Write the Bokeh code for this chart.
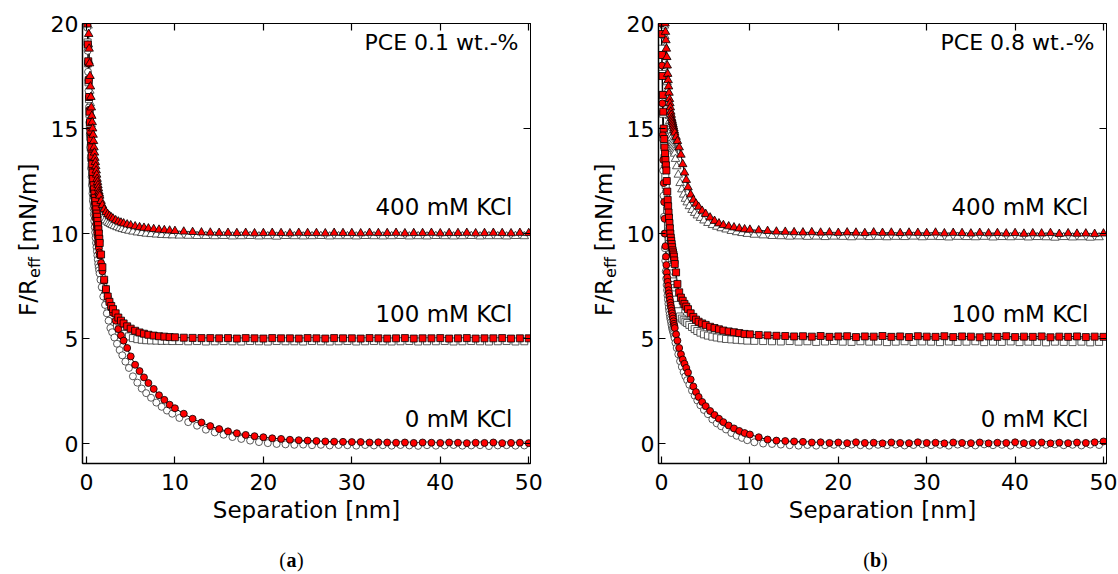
from math import pi
from bokeh.plotting import figure
from bokeh.models import Range1d, LinearAxis, FixedTicker, Label, CustomLabelingPolicy
from bokeh.layouts import row, column
from bokeh.embed import file_html
from bokeh.resources import INLINE

# ---------------- data ----------------
x_ticks = [0, 10, 20, 30, 40, 50]
y_ticks = [0, 5, 10, 15, 20]
salt_labels = ["400 mM KCl", "100 mM KCl", "0 mM KCl"]
pce_labels = ["PCE 0.1 wt.-%", "PCE 0.8 wt.-%"]
panel_letters = ["a", "b"]
x_title = "Separation [nm]"
y_title_parts = ["F/R", "eff", "[mN/m]"]

sep_red = [0.00, 0.05, 0.10, 0.15, 0.20, 0.25, 0.30, 0.35, 0.40, 0.45,
           0.50, 0.55, 0.60, 0.65, 0.70, 0.75, 0.80, 0.85, 0.90, 0.95,
           1.00, 1.05, 1.10, 1.15, 1.20, 1.25, 1.30, 1.35, 1.40, 1.45,
           1.50, 1.65, 1.80, 2.00, 2.20, 2.40, 2.60, 2.80, 3.00, 3.30,
           3.60, 3.90, 4.20, 4.60, 5.00, 5.50, 6.00, 6.50, 7.00, 7.60,
           8.20, 8.80, 9.40,
           10, 11, 12, 13, 14, 15, 16, 17, 18, 19,
           20, 21, 22, 23, 24, 25, 26, 27, 28, 29,
           30, 31, 32, 33, 34, 35, 36, 37, 38, 39,
           40, 41, 42, 43, 44, 45, 46, 47, 48, 49, 50]

sep_open = [0.03, 0.08, 0.13, 0.18, 0.23, 0.28, 0.33, 0.38, 0.43, 0.48,
            0.53, 0.58, 0.63, 0.68, 0.73, 0.78, 0.83, 0.88, 0.93, 0.98,
            1.03, 1.08, 1.13, 1.18, 1.23, 1.28, 1.33, 1.38, 1.43, 1.48,
            1.58, 1.72, 1.90, 2.10, 2.30, 2.50, 2.70, 2.90, 3.15, 3.45,
            3.75, 4.05, 4.40, 4.80, 5.25, 5.75, 6.25, 6.75, 7.30, 7.90,
            8.50, 9.10, 9.70,
            10.5, 11.5, 12.5, 13.5, 14.5, 15.5, 16.5, 17.5, 18.5, 19.5,
            20.5, 21.5, 22.5, 23.5, 24.5, 25.5, 26.5, 27.5, 28.5, 29.5,
            30.5, 31.5, 32.5, 33.5, 34.5, 35.5, 36.5, 37.5, 38.5, 39.5,
            40.5, 41.5, 42.5, 43.5, 44.5, 45.5, 46.5, 47.5, 48.5, 49.5]

# ---- panel (a): PCE 0.1 wt.-% ----
a400_red = [24.0, 23.0, 22.0, 21.1, 20.2, 19.5, 18.8, 18.1, 17.5, 17.0,
            16.5, 16.0, 15.6, 15.3, 15.0, 14.7, 14.4, 14.1, 13.85, 13.6,
            13.4, 13.2, 13.0, 12.8, 12.6, 12.45, 12.3, 12.15, 12.0, 11.9,
            11.8, 11.55, 11.35, 11.15, 11.02, 10.92, 10.84, 10.77, 10.71, 10.63,
            10.57, 10.52, 10.48, 10.43, 10.39, 10.34, 10.30, 10.27, 10.24, 10.21,
            10.18, 10.16, 10.14,
            10.12, 10.09, 10.07, 10.05, 10.04, 10.03, 10.03, 10.02, 10.03, 10.01,
            10.02, 10.03, 10.02, 10.01, 10.03, 10.02, 10.02, 10.01, 10.03, 10.02,
            10.02, 10.01, 10.03, 10.02, 10.02, 10.03, 10.01, 10.02, 10.02, 10.03,
            10.01, 10.02, 10.02, 10.03, 10.01, 10.02, 10.03, 10.02, 10.01, 10.03, 10.02]
a400_open = [23.3, 22.0, 20.9, 19.9, 19.0, 18.2, 17.5, 16.8, 16.2, 15.7,
             15.2, 14.8, 14.4, 14.0, 13.7, 13.4, 13.1, 12.85, 12.6, 12.4,
             12.2, 12.0, 11.85, 11.7, 11.55, 11.42, 11.3, 11.2, 11.1, 11.02,
             10.92, 10.82, 10.72, 10.63, 10.56, 10.5, 10.45, 10.4, 10.35, 10.3,
             10.25, 10.21, 10.17, 10.13, 10.09, 10.05, 10.02, 9.99, 9.97, 9.95,
             9.93, 9.92, 9.91,
             9.90, 9.89, 9.88, 9.88, 9.87, 9.88, 9.86, 9.87, 9.88, 9.86,
             9.87, 9.85, 9.88, 9.87, 9.86, 9.87, 9.88, 9.86, 9.87, 9.87,
             9.86, 9.88, 9.87, 9.86, 9.87, 9.88, 9.86, 9.87, 9.86, 9.88,
             9.87, 9.86, 9.87, 9.88, 9.86, 9.87, 9.87, 9.86, 9.88, 9.87]
a100_red = [22.5, 21.2, 20.0, 19.0, 18.2, 17.3, 16.5, 15.8, 15.3, 14.9,
            14.5, 14.1, 13.7, 13.3, 12.9, 12.6, 12.3, 12.1, 11.9, 11.7,
            11.55, 11.35, 11.15, 10.95, 10.8, 10.6, 10.4, 10.2, 10.0, 9.75,
            9.55, 9.0, 8.4, 7.8, 7.35, 7.0, 6.75, 6.55, 6.4, 6.2,
            6.0, 5.85, 5.72, 5.58, 5.47, 5.37, 5.29, 5.23, 5.18, 5.14,
            5.11, 5.09, 5.07,
            5.06, 5.04, 5.03, 5.02, 5.02, 5.01, 5.02, 5.00, 5.02, 5.01,
            5.00, 5.02, 5.01, 5.01, 5.00, 5.02, 5.01, 5.00, 5.02, 5.01,
            5.01, 5.00, 5.02, 5.01, 5.00, 5.01, 5.02, 5.00, 5.01, 5.01,
            5.02, 5.00, 5.01, 5.02, 5.00, 5.01, 5.01, 5.02, 5.00, 5.01, 5.01]
a100_open = [21.5, 20.2, 19.1, 18.1, 17.2, 16.4, 15.7, 15.1, 14.6, 14.1,
             13.6, 13.2, 12.8, 12.4, 12.1, 11.8, 11.5, 11.25, 11.0, 10.75,
             10.5, 10.25, 10.0, 9.8, 9.6, 9.4, 9.2, 9.0, 8.8, 8.62,
             8.3, 7.9, 7.45, 7.05, 6.7, 6.42, 6.18, 5.97, 5.76, 5.6,
             5.48, 5.37, 5.22, 5.1, 5.02, 4.97, 4.94, 4.92, 4.91, 4.9,
             4.89, 4.89, 4.88,
             4.88, 4.87, 4.88, 4.86, 4.87, 4.88, 4.87, 4.86, 4.88, 4.87,
             4.86, 4.88, 4.87, 4.87, 4.86, 4.88, 4.87, 4.86, 4.87, 4.88,
             4.86, 4.87, 4.88, 4.87, 4.86, 4.87, 4.88, 4.86, 4.87, 4.87,
             4.88, 4.86, 4.87, 4.88, 4.87, 4.86, 4.87, 4.88, 4.86, 4.87]
a0_red = [22.0, 21.0, 20.0, 19.0, 18.1, 17.3, 16.5, 15.9, 15.3, 14.8,
          14.3, 13.9, 13.5, 13.1, 12.7, 12.4, 12.1, 11.8, 11.5, 11.2,
          10.9, 10.7, 10.45, 10.25, 10.05, 9.85, 9.6, 9.45, 9.3, 9.1,
          8.95, 8.6, 8.2, 7.75, 7.35, 7.0, 6.72, 6.46, 6.22, 5.85,
          5.45, 5.15, 4.9, 4.55, 4.15, 3.75, 3.45, 3.15, 2.88, 2.6,
          2.3, 2.08, 1.85,
          1.68, 1.42, 1.18, 1.0, 0.83, 0.69, 0.58, 0.49, 0.41, 0.35,
          0.3, 0.25, 0.22, 0.18, 0.16, 0.14, 0.12, 0.1, 0.09, 0.08,
          0.07, 0.07, 0.05, 0.06, 0.05, 0.04, 0.05, 0.03, 0.05, 0.04,
          0.03, 0.05, 0.04, 0.02, 0.04, 0.03, 0.05, 0.02, 0.03, 0.04, 0.02]
a0_open = [21.0, 19.8, 18.7, 17.7, 16.8, 16.0, 15.3, 14.7, 14.1, 13.6,
           13.1, 12.7, 12.3, 11.9, 11.55, 11.2, 10.9, 10.6, 10.3, 10.05,
           9.8, 9.55, 9.35, 9.15, 8.95, 8.75, 8.55, 8.4, 8.25, 8.1,
           7.8, 7.45, 7.0, 6.6, 6.2, 5.85, 5.5, 5.3, 5.05, 4.75,
           4.45, 4.2, 3.9, 3.6, 3.2, 2.9, 2.62, 2.4, 2.18, 1.95,
           1.75, 1.57, 1.42,
           1.22, 1.02, 0.85, 0.66, 0.53, 0.42, 0.31, 0.22, 0.14, 0.07,
           0.02, -0.02, -0.04, -0.06, -0.05, -0.08, -0.06, -0.09, -0.07, -0.08,
           -0.1, -0.07, -0.09, -0.08, -0.1, -0.07, -0.09, -0.11, -0.08, -0.1,
           -0.09, -0.07, -0.1, -0.09, -0.08, -0.12, -0.09, -0.08, -0.1, -0.09]

# ---- panel (b): PCE 0.8 wt.-% ----
b400_red = [25.0, 24.0, 23.2, 22.5, 21.9, 21.3, 20.8, 20.4, 20.0, 19.6,
            19.2, 18.8, 18.4, 18.0, 17.6, 17.3, 17.0, 16.7, 16.4, 16.2,
            16.0, 15.8, 15.65, 15.5, 15.4, 15.3, 15.2, 15.1, 15.0, 14.9,
            14.8, 14.6, 14.4, 14.1, 13.75, 13.3, 12.9, 12.55, 12.2, 11.85,
            11.6, 11.42, 11.27, 11.08, 10.93, 10.76, 10.6, 10.48, 10.4, 10.34,
            10.29, 10.24, 10.2,
            10.18, 10.15, 10.12, 10.09, 10.08, 10.06, 10.05, 10.06, 10.04, 10.05,
            10.03, 10.05, 10.04, 10.02, 10.05, 10.03, 10.04, 10.02, 10.04, 10.03,
            10.02, 10.04, 10.01, 10.03, 10.02, 10.0, 10.03, 10.01, 10.02, 10.0,
            10.02, 9.99, 10.01, 10.0, 10.02, 9.98, 10.01, 9.99, 10.0, 9.98, 10.0]
b400_open = [24.0, 23.1, 22.3, 21.6, 21.0, 20.4, 19.9, 19.4, 18.9, 18.4,
             18.0, 17.6, 17.2, 16.8, 16.5, 16.2, 15.9, 15.6, 15.35, 15.1,
             14.9, 14.7, 14.55, 14.4, 14.3, 14.2, 14.1, 14.0, 13.9, 13.8,
             13.55, 13.2, 12.8, 12.4, 12.1, 11.85, 11.65, 11.48, 11.3, 11.12,
             10.98, 10.86, 10.74, 10.62, 10.5, 10.4, 10.32, 10.25, 10.19, 10.12,
             10.06, 10.02, 9.98,
             9.94, 9.91, 9.88, 9.87, 9.85, 9.86, 9.84, 9.85, 9.83, 9.85,
             9.84, 9.82, 9.85, 9.83, 9.84, 9.82, 9.84, 9.83, 9.85, 9.82,
             9.84, 9.83, 9.81, 9.84, 9.83, 9.82, 9.84, 9.81, 9.83, 9.82,
             9.84, 9.81, 9.83, 9.82, 9.8, 9.83, 9.81, 9.82, 9.8, 9.82]
b100_red = [19.5, 18.5, 17.5, 16.6, 15.8, 15.0, 14.5, 14.1, 13.8, 13.5,
            13.25, 13.0, 12.5, 12.0, 11.6, 11.3, 11.0, 10.75, 10.5, 10.25,
            10.0, 9.8, 9.65, 9.5, 9.35, 9.2, 9.1, 9.0, 8.9, 8.72,
            8.55, 8.15, 7.6, 7.2, 6.95, 6.8, 6.65, 6.52, 6.4, 6.2,
            6.03, 5.9, 5.8, 5.72, 5.65, 5.56, 5.5, 5.44, 5.38, 5.34,
            5.3, 5.26, 5.22,
            5.2, 5.17, 5.15, 5.13, 5.12, 5.1, 5.11, 5.09, 5.12, 5.08,
            5.1, 5.11, 5.07, 5.1, 5.09, 5.12, 5.08, 5.1, 5.07, 5.11,
            5.09, 5.08, 5.11, 5.07, 5.1, 5.09, 5.06, 5.1, 5.08, 5.11,
            5.07, 5.09, 5.08, 5.1, 5.06, 5.09, 5.08, 5.1, 5.07, 5.09, 5.08]
b100_open = [18.8, 17.6, 16.6, 15.7, 14.9, 14.2, 13.6, 13.1, 12.7, 12.3,
             11.9, 11.5, 11.1, 10.75, 10.4, 10.1, 9.8, 9.5, 9.25, 9.0,
             8.75, 8.5, 8.3, 8.1, 7.9, 7.72, 7.55, 7.4, 7.25, 7.1,
             6.85, 6.6, 6.3, 6.05, 5.95, 5.87, 5.8, 5.74, 5.65, 5.55,
             5.45, 5.36, 5.28, 5.2, 5.14, 5.09, 5.05, 5.01, 4.98, 4.96,
             4.94, 4.92, 4.9,
             4.89, 4.88, 4.87, 4.86, 4.88, 4.85, 4.87, 4.84, 4.86, 4.88,
             4.85, 4.84, 4.87, 4.85, 4.86, 4.83, 4.85, 4.87, 4.84, 4.86,
             4.85, 4.83, 4.86, 4.84, 4.85, 4.87, 4.83, 4.85, 4.84, 4.86,
             4.83, 4.85, 4.84, 4.82, 4.85, 4.84, 4.83, 4.85, 4.82, 4.84]
b0_red = [20.0, 18.0, 16.2, 14.7, 13.5, 12.4, 11.5, 10.7, 10.0, 9.4,
          8.9, 8.5, 8.15, 7.9, 7.7, 7.5, 7.3, 7.15, 7.0, 6.85,
          6.7, 6.57, 6.45, 6.32, 6.2, 6.07, 5.95, 5.82, 5.7, 5.6,
          5.5, 5.2, 4.9, 4.55, 4.25, 4.0, 3.8, 3.6, 3.38, 3.05,
          2.72, 2.45, 2.22, 1.98, 1.78, 1.55, 1.36, 1.18, 1.02, 0.86,
          0.72, 0.6, 0.5,
          0.43, 0.3, 0.19, 0.14, 0.12, 0.1, 0.08, 0.05, 0.06, 0.03,
          0.05, 0.02, 0.06, 0.03, 0.04, 0.01, 0.05, 0.03, 0.02, 0.06,
          0.03, 0.04, 0.01, 0.05, 0.03, 0.02, 0.05, 0.01, 0.04, 0.03,
          0.06, 0.02, 0.03, 0.05, 0.01, 0.04, 0.02, 0.05, 0.03, 0.06, 0.1]
b0_open = [18.5, 16.3, 14.5, 13.0, 11.8, 10.8, 10.0, 9.3, 8.7, 8.2,
           7.85, 7.55, 7.3, 7.05, 6.85, 6.65, 6.45, 6.3, 6.15, 6.0,
           5.9, 5.78, 5.65, 5.55, 5.45, 5.38, 5.3, 5.22, 5.12, 5.02,
           4.8, 4.55, 4.25, 3.92, 3.65, 3.4, 3.2, 3.02, 2.8, 2.52,
           2.28, 2.05, 1.82, 1.6, 1.4, 1.15, 0.96, 0.82, 0.67, 0.5,
           0.37, 0.27, 0.16,
           0.06, 0.0, -0.02, -0.05, -0.08, -0.1, -0.07, -0.1, -0.08, -0.06,
           -0.09, -0.05, -0.08, -0.1, -0.06, -0.08, -0.05, -0.09, -0.07, -0.04,
           -0.08, -0.06, -0.1, -0.05, -0.07, -0.09, -0.04, -0.08, -0.06, -0.1,
           -0.05, -0.07, -0.09, -0.06, -0.04, -0.08, -0.06, -0.09, -0.05, -0.07]

for _name, _lst, _ref in [("a400_red", a400_red, sep_red), ("a400_open", a400_open, sep_open),
                          ("a100_red", a100_red, sep_red), ("a100_open", a100_open, sep_open),
                          ("a0_red", a0_red, sep_red), ("a0_open", a0_open, sep_open),
                          ("b400_red", b400_red, sep_red), ("b400_open", b400_open, sep_open),
                          ("b100_red", b100_red, sep_red), ("b100_open", b100_open, sep_open),
                          ("b0_red", b0_red, sep_red), ("b0_open", b0_open, sep_open)]:
    assert len(_lst) == len(_ref), (_name, len(_lst), len(_ref))

# ---------------- styling / layout ----------------
SANS = "DejaVu Sans"
SERIF = "Liberation Serif"
Y_RANGE = (-0.95, 20.0)
FRAME_W, FRAME_H = 448, 440
TOTAL_W, TOTAL_H = 1118, 574
LETTER_H = 30                     # strip at the bottom for (a) / (b)
MAIN_H = TOTAL_H - LETTER_H        # 544 requested; the plot row ends up ~553 tall
ROW_BOTTOM = 553                   # where the letter strip actually starts on the page
BORDER_TOP = 23
BORDER_BOTTOM = MAIN_H - BORDER_TOP - FRAME_H   # 81
AXIS_GAP = 36                      # room for the tick labels left of each frame

NO_LABELS = CustomLabelingPolicy(code="for (const i of indices) { indices.unset(i) }\nreturn indices")


def blank(width, height, top=0, bottom=0):
    """Axis-less figure whose data units equal pixels (y measured upward
    from the bottom edge of this figure)."""
    f = figure(width=width, height=height, x_range=Range1d(0, width),
               y_range=Range1d(bottom, height - top), x_axis_type=None, y_axis_type=None,
               output_backend="svg", toolbar_location=None, title=None,
               min_border=0, min_border_left=0, min_border_right=0,
               min_border_top=top, min_border_bottom=bottom)
    f.outline_line_color = None
    f.background_fill_color = "white"
    f.border_fill_color = "white"
    f.xgrid.visible = False
    f.ygrid.visible = False
    return f


def ylabel_column(width, center_x):
    """Strip carrying the rotated y-axis title F/R_eff [mN/m]; its frame has the
    same vertical extent as the plot frames so row alignment does not move it."""
    f = blank(width, MAIN_H, BORDER_TOP, BORDER_BOTTOM)
    # (x centre, y centre measured from the top of the page, text, size)
    specs = [(center_x, 297, y_title_parts[0], "23px"),
             (center_x + 7, 267, y_title_parts[1], "16px"),
             (center_x, 207, y_title_parts[2], "23px")]
    for cx, cy, txt, fs in specs:
        f.add_layout(Label(x=cx, y=MAIN_H - cy, text=txt, angle=pi / 2,
                           text_align="center", text_baseline="middle",
                           text_font=SANS, text_font_size=fs, text_color="black"))
    return f


def letter_strip():
    f = blank(TOTAL_W, LETTER_H)
    base = LETTER_H - (568 - ROW_BOTTOM)   # baseline 568 px from the top of the page
    for letter, cx in zip(panel_letters, [291, 875]):
        f.add_layout(Label(x=cx - 5.5, y=base, text="(", text_align="right",
                           text_baseline="alphabetic", text_font=SERIF,
                           text_font_size="20px", text_color="black"))
        f.add_layout(Label(x=cx, y=base, text=letter, text_align="center",
                           text_baseline="alphabetic", text_font=SERIF,
                           text_font_size="20px", text_font_style="bold",
                           text_color="black"))
        f.add_layout(Label(x=cx + 5.5, y=base, text=")", text_align="left",
                           text_baseline="alphabetic", text_font=SERIF,
                           text_font_size="20px", text_color="black"))
    return f


def make_panel(xr, border_right, series, pce_text):
    p = figure(width=AXIS_GAP + FRAME_W + border_right, height=MAIN_H,
               x_range=Range1d(*xr), y_range=Range1d(*Y_RANGE),
               output_backend="svg", toolbar_location=None,
               min_border_left=AXIS_GAP, min_border_right=border_right,
               min_border_top=BORDER_TOP, min_border_bottom=BORDER_BOTTOM,
               x_axis_label=x_title)
    p.background_fill_color = "white"
    p.border_fill_color = "white"
    p.outline_line_color = "black"
    p.outline_line_width = 1
    p.xgrid.visible = False
    p.ygrid.visible = False

    xa = p.xaxis[0]
    ya = p.yaxis[0]
    xa.ticker = FixedTicker(ticks=x_ticks)
    ya.ticker = FixedTicker(ticks=y_ticks)
    for ax in (xa, ya):
        ax.major_tick_in = 7
        ax.major_tick_out = 0
        ax.minor_tick_in = 0
        ax.minor_tick_out = 0
        ax.axis_line_color = "black"
        ax.axis_line_width = 1.5
        ax.major_tick_line_color = "black"
        ax.major_tick_line_width = 1.2
        ax.major_label_text_font = SANS
        ax.major_label_text_font_size = "22px"
        ax.major_label_text_color = "black"
    xa.major_label_standoff = 10
    ya.major_label_standoff = 4
    xa.axis_label_text_font = SANS
    xa.axis_label_text_font_size = "23px"
    xa.axis_label_text_font_style = "normal"
    xa.axis_label_text_color = "black"
    xa.axis_label_standoff = 4

    top = LinearAxis(ticker=FixedTicker(ticks=x_ticks), major_label_policy=NO_LABELS)
    right = LinearAxis(ticker=FixedTicker(ticks=y_ticks), major_label_policy=NO_LABELS)
    for ax in (top, right):
        ax.major_tick_in = 7
        ax.major_tick_out = 0
        ax.minor_tick_in = 0
        ax.minor_tick_out = 0
        ax.axis_line_color = "black"
        ax.axis_line_width = 1
        ax.major_tick_line_color = "black"
        ax.major_tick_line_width = 1.2
        ax.major_label_text_font_size = "1px"
        ax.major_label_standoff = 0
    p.add_layout(top, "above")
    p.add_layout(right, "right")

    def xd(off):
        return xr[0] + off / FRAME_W * (xr[1] - xr[0])

    def yd(off_top):
        return Y_RANGE[1] - off_top / FRAME_H * (Y_RANGE[1] - Y_RANGE[0])

    for red_y, open_y, marker, msize in series:
        p.line(sep_red, red_y, line_color="black", line_width=1)
    for red_y, open_y, marker, msize in series:
        p.scatter(sep_open, open_y, marker=marker, size=msize, fill_color="white",
                  line_color="#303030", line_width=0.8)
    for red_y, open_y, marker, msize in reversed(series):
        p.scatter(sep_red, red_y, marker=marker, size=msize, fill_color="#ff0000",
                  line_color="black", line_width=0.8)

    p.add_layout(Label(x=xd(436), y=yd(19), text=pce_text, text_align="right",
                       text_baseline="middle", text_font=SANS, text_font_size="22px",
                       text_color="black"))
    for lab, off in zip(salt_labels, [183, 290, 395]):
        p.add_layout(Label(x=xd(430), y=yd(off), text=lab, text_align="right",
                           text_baseline="middle", text_font=SANS, text_font_size="23px",
                           text_color="black"))
    return p


series_a = [(a400_red, a400_open, "triangle", 8.5),
            (a100_red, a100_open, "square", 7),
            (a0_red, a0_open, "circle", 7)]
series_b = [(b400_red, b400_open, "triangle", 8.5),
            (b100_red, b100_open, "square", 7),
            (b0_red, b0_open, "circle", 7)]

ylab_a = ylabel_column(82 - AXIS_GAP, 27)
pa = make_panel((-0.45, 50.2), 29, series_a, pce_labels[0])
ylab_b = ylabel_column(658 - 559 - AXIS_GAP, 27 + 17)
pb = make_panel((-0.34, 50.34), 12, series_b, pce_labels[1])

layout = column(row(ylab_a, pa, ylab_b, pb), letter_strip())
open("out.html", "w").write(file_html(layout, INLINE))
